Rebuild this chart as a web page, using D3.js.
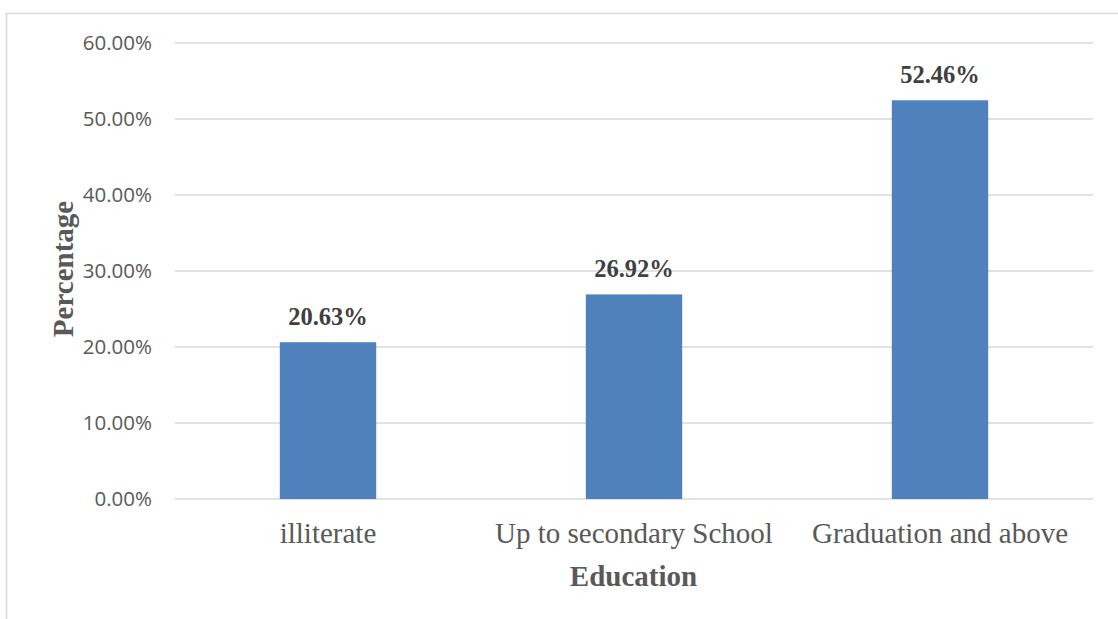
<!DOCTYPE html>
<html>
<head>
<meta charset="utf-8">
<script src="https://cdn.jsdelivr.net/npm/d3@7"></script>
<style>
  html, body { margin: 0; padding: 0; background: #fff; }
  svg { display: block; }
</style>
</head>
<body>
<svg id="chart" width="1118" height="619"></svg>
<script>
// Education level shares
const categories = ["illiterate", "Up to secondary School", "Graduation and above"];
const values = [20.63, 26.92, 52.46];
const yTicks = [0, 10, 20, 30, 40, 50, 60];

const svg = d3.select("#chart");
const W = 1118, H = 619;
const plot = { left: 175, right: 1093, top: 43, bottom: 499 };
const serif = "'Liberation Serif', 'Times New Roman', serif";

// Chart frame (top and left edges visible)
svg.append("line").attr("x1", 6).attr("x2", W).attr("y1", 13.5).attr("y2", 13.5)
  .attr("stroke", "#d9d9d9").attr("stroke-width", 1.5);
svg.append("line").attr("x1", 6.5).attr("x2", 6.5).attr("y1", 13).attr("y2", H)
  .attr("stroke", "#d9d9d9").attr("stroke-width", 1.5);

const x = d3.scaleBand().domain(categories).range([plot.left, plot.right]).paddingInner(0.685).paddingOuter(0.3425);
const y = d3.scaleLinear().domain([0, 60]).range([plot.bottom, plot.top]);

// Gridlines
svg.append("g").selectAll("line").data(yTicks).join("line")
  .attr("x1", plot.left).attr("x2", plot.right)
  .attr("y1", d => y(d)).attr("y2", d => y(d))
  .attr("stroke", "#d9d9d9").attr("stroke-width", 1.5);

// Y axis labels
const yAxis = d3.axisLeft(y).tickValues(yTicks).tickFormat(d => d.toFixed(2) + "%").tickSize(0).tickPadding(23);
const gy = svg.append("g").attr("transform", `translate(${plot.left},0)`).call(yAxis);
gy.select(".domain").remove();
gy.selectAll("text").attr("font-family", "'Open Sans', sans-serif").attr("font-size", 20.5)
  .attr("fill", "#595959").attr("dy", "0.3em");

// Bars
svg.append("g").selectAll("rect").data(values).join("rect")
  .attr("x", (d, i) => x(categories[i]))
  .attr("width", x.bandwidth())
  .attr("y", d => y(d))
  .attr("height", d => y(0) - y(d))
  .attr("fill", "#4f81bd");

// Value labels
svg.append("g").selectAll("text").data(values).join("text")
  .attr("x", (d, i) => x(categories[i]) + x.bandwidth() / 2)
  .attr("y", d => y(d) - 17)
  .attr("text-anchor", "middle")
  .attr("font-family", serif)
  .attr("font-weight", "bold").attr("font-size", 24.5).attr("fill", "#404040")
  .text(d => d.toFixed(2) + "%");

// X axis labels
const xAxis = d3.axisBottom(x).tickSize(0).tickPadding(23.5);
const gx = svg.append("g").attr("transform", `translate(0,${plot.bottom})`).call(xAxis);
gx.select(".domain").remove();
gx.selectAll("text").attr("font-family", serif)
  .attr("font-size", 29).attr("fill", "#595959");

// Axis titles
svg.append("text").attr("x", 633.5).attr("y", 586)
  .attr("text-anchor", "middle")
  .attr("font-family", serif)
  .attr("font-weight", "bold").attr("font-size", 29).attr("fill", "#595959")
  .text("Education");

svg.append("text").attr("transform", "translate(73,269) rotate(-90)")
  .attr("text-anchor", "middle")
  .attr("font-family", serif)
  .attr("font-weight", "bold").attr("font-size", 29).attr("fill", "#595959")
  .text("Percentage");
</script>
</body>
</html>
